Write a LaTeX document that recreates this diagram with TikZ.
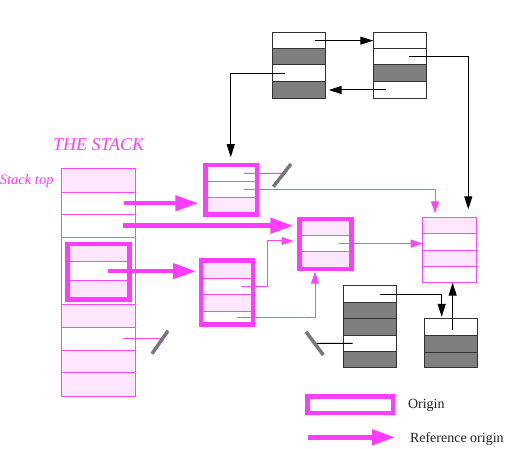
\documentclass[tikz,border=0pt]{standalone}
\usepackage{fontspec}
\setmainfont{Liberation Serif}
\usetikzlibrary{arrows.meta,calc}
\definecolor{mag}{HTML}{FF3CFF}
\definecolor{pthin}{HTML}{FF46FF}
\definecolor{pfill}{HTML}{FFE6FF}
\definecolor{gfill}{HTML}{7F7F7F}
\definecolor{bordc}{HTML}{333333}
\definecolor{slashc}{HTML}{777777}
\definecolor{legtext}{HTML}{222222}
\newcommand\mkcell[6]{\node[#2, minimum width=#5, minimum height=#6, anchor=north west] (#1) at (#3,#4) {};}
\begin{document}
\begin{tikzpicture}[x=1pt,y=-1pt,
  every node/.style={inner sep=0pt, outer sep=0pt},
  pc/.style={draw=pthin, line width=0.9pt, fill=pfill},
  wc/.style={draw=pthin, line width=0.9pt, fill=white},
  gc/.style={draw=bordc, line width=1pt, fill=gfill},
  bc/.style={draw=bordc, line width=1pt, fill=white},
  pframe/.style={draw=mag, line width=4.5pt},
  thinframe/.style={draw=pthin, line width=0.9pt},
  bframe/.style={draw=bordc, line width=1pt},
  thickarrow/.style={draw=mag, line width=4.5pt, -{Triangle[length=23pt,width=15pt]}},
  parrow/.style={draw=pthin, line width=1pt, -{Triangle[length=12pt,width=8pt]}},
  pline/.style={draw=pthin, line width=1pt},
  barrow/.style={draw=black, line width=1pt, -{Triangle[length=13pt,width=8pt]}},
  blkline/.style={draw=black, line width=1pt},
  gslash/.style={draw=slashc, line width=3.5pt}
]
\useasboundingbox (0,0) rectangle (517,449);

% ---- the stack ----
\mkcell{s1}{pc}{61.5}{168}{74}{24}
\mkcell{s2}{wc}{61.5}{192}{74}{22.5}
\mkcell{s3}{wc}{61.5}{214.5}{74}{22.5}
\mkcell{s4}{wc}{61.5}{237}{74}{67}
\mkcell{s5}{pc}{61.5}{304}{74}{23.5}
\mkcell{s6}{wc}{61.5}{327.5}{74}{22.5}
\mkcell{s7}{pc}{61.5}{350}{74}{22.5}
\mkcell{s8}{pc}{61.5}{372.5}{74}{23.5}
% origin box inside the stack
\mkcell{o1}{pc}{67.25}{244}{62.25}{17.7}
\mkcell{o2}{wc}{67.25}{261.7}{62.25}{19}
\mkcell{o3}{pc}{67.25}{280.7}{62.25}{18.8}
\node[pframe, minimum width=62.25, minimum height=55.5, anchor=north west] (O) at (67.25,244) {};

% ---- box A ----
\mkcell{a1}{wc}{205.25}{165.25}{51.5}{16.45}
\mkcell{a2}{wc}{205.25}{181.7}{51.5}{15.6}
\mkcell{a3}{pc}{205.25}{197.3}{51.5}{17.45}
\node[pframe, minimum width=51.5, minimum height=49.5, anchor=north west] (A) at (205.25,165.25) {};

% ---- box B ----
\mkcell{b1}{pc}{200.75}{260.5}{52}{17.5}
\mkcell{b2}{wc}{200.75}{278}{52}{16.3}
\mkcell{b3}{pc}{200.75}{294.3}{52}{17}
\mkcell{b4}{wc}{200.75}{311.3}{52}{13.2}
\node[pframe, minimum width=52, minimum height=64, anchor=north west] (B) at (200.75,260.5) {};

% ---- box C ----
\mkcell{c1}{pc}{299.5}{219}{52}{16.5}
\mkcell{c2}{wc}{299.5}{235.5}{52}{16.2}
\mkcell{c3}{pc}{299.5}{251.7}{52}{17.5}
\node[pframe, minimum width=52, minimum height=50.2, anchor=north west] (C) at (299.5,219) {};

% ---- box F ----
\mkcell{f1}{pc}{422.7}{217.3}{53.3}{16}
\mkcell{f2}{wc}{422.7}{233.3}{53.3}{17.4}
\mkcell{f3}{pc}{422.7}{250.7}{53.3}{16}
\mkcell{f4}{wc}{422.7}{266.7}{53.3}{16}
\node[thinframe, minimum width=53.3, minimum height=65.4, anchor=north west] (F) at (422.7,217.3) {};

% ---- top boxes ----
\mkcell{t11}{bc}{272.3}{32.3}{53.4}{16.7}
\mkcell{t12}{gc}{272.3}{49}{53.4}{16}
\mkcell{t13}{bc}{272.3}{65}{53.4}{16.7}
\mkcell{t14}{gc}{272.3}{81.7}{53.4}{16.6}
\node[bframe, minimum width=53.4, minimum height=66, anchor=north west] (T1) at (272.3,32.3) {};
\mkcell{t21}{bc}{373.3}{32.3}{53.4}{16.7}
\mkcell{t22}{bc}{373.3}{49}{53.4}{16}
\mkcell{t23}{gc}{373.3}{65}{53.4}{16.7}
\mkcell{t24}{bc}{373.3}{81.7}{53.4}{16.6}
\node[bframe, minimum width=53.4, minimum height=66, anchor=north west] (T2) at (373.3,32.3) {};

% ---- box E ----
\mkcell{e1}{bc}{343.3}{286}{52.7}{16.7}
\mkcell{e2}{gc}{343.3}{302.7}{52.7}{15.6}
\mkcell{e3}{gc}{343.3}{318.3}{52.7}{16.7}
\mkcell{e4}{bc}{343.3}{335}{52.7}{16.7}
\mkcell{e5}{gc}{343.3}{351.7}{52.7}{15.6}
\node[bframe, minimum width=52.7, minimum height=81.3, anchor=north west] (E) at (343.3,286) {};

% ---- box G ----
\mkcell{g1}{bc}{424}{318.3}{53.3}{17.4}
\mkcell{g2}{gc}{424}{335.7}{53.3}{16.6}
\mkcell{g3}{gc}{424}{352.3}{53.3}{15}
\node[bframe, minimum width=53.3, minimum height=49, anchor=north west] (G) at (424,318.3) {};

% ---- texts ----
\node[anchor=base west, text=mag, font=\fontsize{18}{20}\selectfont\itshape] (title) at (53,150.7) {THE STACK};
\node[anchor=base east, text=mag, font=\fontsize{14.5}{16}\selectfont\itshape] (stop) at (53.5,185) {Stack top};

% ---- thick reference arrows ----
\draw[thickarrow, shorten >=7pt] ([xshift=-11.5pt]s2.east) -- (s2.east -| A.west);
\draw[thickarrow, shorten >=6.2pt] ([xshift=-12.5pt]s3.east) -- (s3.east -| C.west);
\draw[thickarrow, shorten >=4.75pt] ([xshift=-21.5pt]o2.east) -- (o2.east -| B.west);

% ---- dangling (nil) pointers ----
\coordinate (n1) at (162,338.75);
\draw[pline] ([xshift=-12.5pt]s6.east) -- (n1);
\draw[gslash] ($(n1)+(-10,15)$) -- ($(n1)+(6,-8)$);
\coordinate (n2) at (282.5,173.5);
\draw[pline] ([xshift=-12.75pt]a1.east) -- (n2);
\draw[gslash] ($(n2)+(-9.2,13.2)$) -- ($(n2)+(8.5,-9.5)$);
\coordinate (n3) at (314.6,343.35);
\draw[blkline] ([xshift=-17pt]e4.center) -- (n3);
\draw[gslash] ($(n3)+(-8.6,-11.65)$) -- ($(n3)+(8.7,11.65)$);

% ---- pink pointers ----
\draw[parrow, shorten >=4pt] ([xshift=-12.75pt]a2.east) -| ($(F.north west)+(12.3,0)$);
\coordinate (jb) at (267,241);
\draw[parrow, shorten >=6pt] ([xshift=-12pt]b2.east) -| (jb) -- (jb -| C.west);
\draw[parrow, shorten >=2.5pt] ([xshift=-15.75pt]b4.east) -| ($(C.south west)+(15.5,0)$);
\draw[parrow] ([xshift=-12.5pt]c2.east) -- (c2.east -| F.west);

% ---- black pointers ----
\draw[barrow] ([xshift=16pt]t11.center) -- (t11.center -| T2.west);
\draw[barrow, shorten >=3pt] ([xshift=-13.6pt]t24.center) -- (t24.center -| T1.east);
\draw[barrow, shorten >=8pt] ([xshift=-14pt]t13.center) -| ($(A.north west)+(25.5,0)$);
\draw[barrow, shorten >=8pt] ([xshift=9pt]t22.center) -| ($(F.north west)+(45.6,0)$);
\draw[barrow, shorten >=1.5pt] ([xshift=10.3pt]e1.center) -| ($(G.north west)+(17.7,0)$);
\coordinate (gu) at ([xshift=2pt,yshift=-3pt]g1.center);
\draw[barrow] (gu) -- (gu |- F.south);

% ---- legend ----
\node[pframe, minimum width=85.5, minimum height=16.25, anchor=north west] (L1) at (307.25,396.5) {};
\node[anchor=base west, text=legtext, font=\fontsize{14}{16}\selectfont] (lo) at (408,408.3) {Origin};
\coordinate (lra) at (307.7,437.3);
\coordinate (lrb) at (395,437.3);
\draw[thickarrow] (lra) -- (lrb);
\node[anchor=base west, text=legtext, font=\fontsize{14}{16}\selectfont] (lr) at (410,442.5) {Reference origin};
\end{tikzpicture}
\end{document}
